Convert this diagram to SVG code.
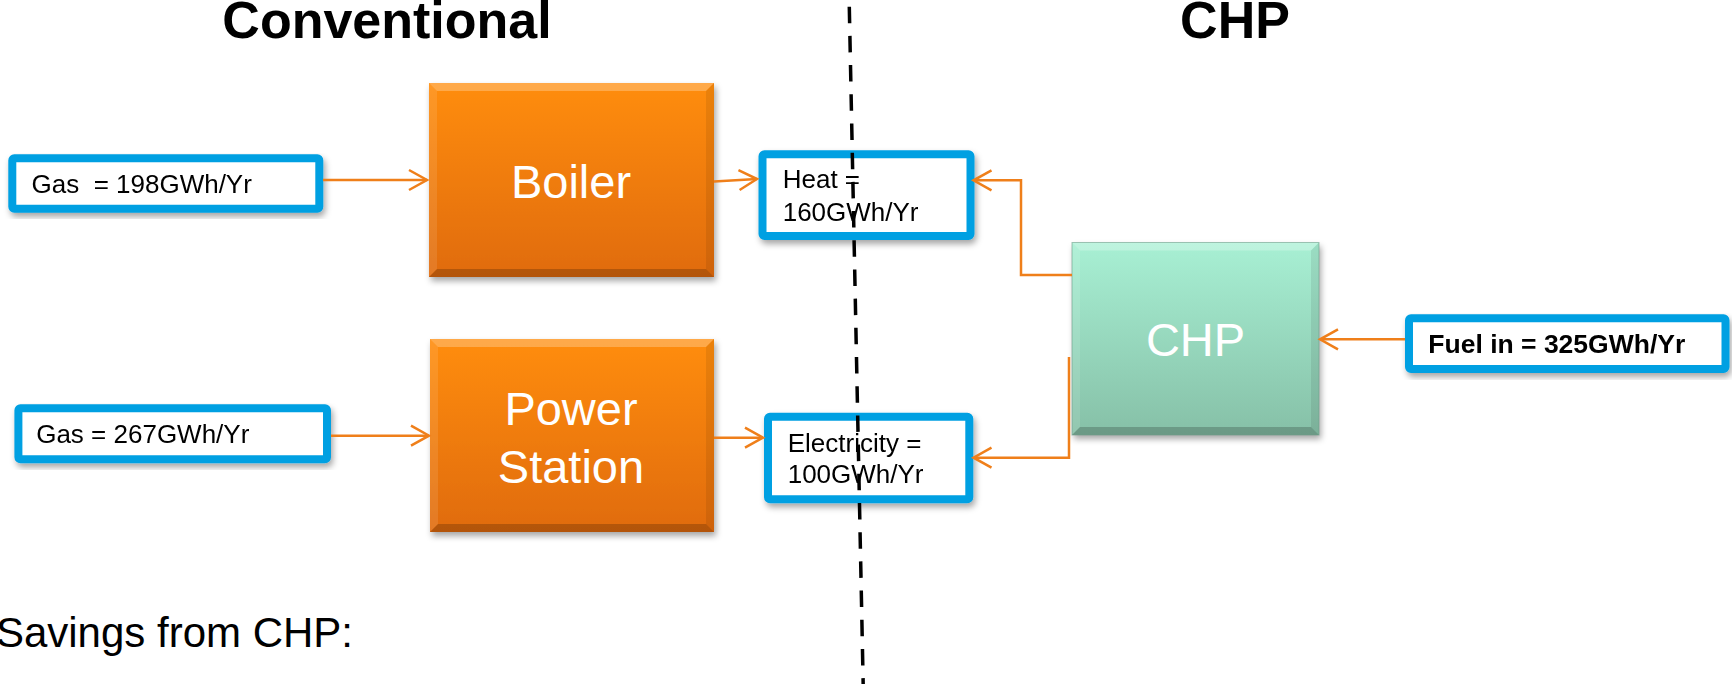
<svg xmlns="http://www.w3.org/2000/svg" width="1732" height="684" viewBox="0 0 1732 684">
<defs>
<linearGradient id="gOrange" x1="0" y1="0" x2="0" y2="1">
<stop offset="0" stop-color="#ff8d0c"/>
<stop offset="1" stop-color="#e06b0c"/>
</linearGradient>
<linearGradient id="gGreen" x1="0" y1="0" x2="0" y2="1">
<stop offset="0" stop-color="#a8f0d4"/>
<stop offset="1" stop-color="#86c0a7"/>
</linearGradient>
<filter id="shadow" x="-10%" y="-10%" width="125%" height="130%">
<feDropShadow dx="2" dy="4" stdDeviation="3" flood-color="#000" flood-opacity="0.35"/>
</filter>
<marker id="arr" markerUnits="userSpaceOnUse" markerWidth="24" markerHeight="24" viewBox="-20 -12 24 24" refX="0" refY="0" orient="auto">
<path d="M-18,-10 L0,0 L-18,10" fill="none" stroke="#ef7f1a" stroke-width="2.5"/>
</marker>
</defs>
<style>
.title{font-family:"Liberation Sans",Arial,sans-serif;font-weight:bold;font-size:52px;fill:#000;text-anchor:middle}
.lbl{font-family:"Liberation Sans",Arial,sans-serif;font-size:26px;fill:#000}
.bold{font-weight:bold;font-size:26.5px}
.sav{font-family:"Liberation Sans",Arial,sans-serif;font-size:42px;fill:#000;text-anchor:end}
.big{font-family:"Liberation Sans",Arial,sans-serif;font-size:47px;fill:#fff;text-anchor:middle}
.blue{fill:#fff;stroke:#00a0e2;stroke-width:8}
.conn{fill:none;stroke:#ef7f1a;stroke-width:2.5;marker-end:url(#arr)}
.hl{fill:#fff;opacity:0.25}
.hl2{fill:#fff;opacity:0.1}
.sh{fill:#000;opacity:0.08}
.sh2{fill:#000;opacity:0.2}
</style>
<rect width="1732" height="684" fill="#fff"/>

<text class="title" x="387" y="38">Conventional</text>
<text class="title" x="1235" y="38">CHP</text>

<g id="gas1" filter="url(#shadow)">
<rect class="blue" x="12.3" y="158.2" width="307" height="50.5" rx="2"/>
<text class="lbl" x="31.5" y="193.3" xml:space="preserve">Gas  = 198GWh/Yr</text>
</g>

<g id="gas2" filter="url(#shadow)">
<rect class="blue" x="18.4" y="408.3" width="308.6" height="51" rx="2"/>
<text class="lbl" x="36.2" y="443.3">Gas = 267GWh/Yr</text>
</g>

<g id="boiler">
<rect x="429" y="83" width="285" height="194" fill="url(#gOrange)" filter="url(#shadow)"/>
<polygon class="hl" points="429,83 714,83 706,91 437,91"/>
<polygon class="hl2" points="429,83 437,91 437,269 429,277"/>
<polygon class="sh" points="714,83 714,277 706,269 706,91"/>
<polygon class="sh2" points="429,277 437,269 706,269 714,277"/>
<text class="big" x="571" y="197.7">Boiler</text>
</g>

<g id="power">
<rect x="430" y="339" width="284" height="193" fill="url(#gOrange)" filter="url(#shadow)"/>
<polygon class="hl" points="430,339 714,339 706,347 438,347"/>
<polygon class="hl2" points="430,339 438,347 438,524 430,532"/>
<polygon class="sh" points="714,339 714,532 706,524 706,347"/>
<polygon class="sh2" points="430,532 438,524 706,524 714,532"/>
<text class="big" x="571" y="425">Power</text>
<text class="big" x="571" y="482.7">Station</text>
</g>

<g id="heat" filter="url(#shadow)">
<rect class="blue" x="762.5" y="154.2" width="208" height="81.7" rx="2"/>
<text class="lbl" x="782.7" y="187.7">Heat =</text>
<text class="lbl" x="782.7" y="221">160GWh/Yr</text>
</g>

<g id="electricity" filter="url(#shadow)">
<rect class="blue" x="768" y="416.7" width="201.3" height="82.5" rx="2"/>
<text class="lbl" x="787.7" y="451.7">Electricity =</text>
<text class="lbl" x="787.7" y="483.3">100GWh/Yr</text>
</g>

<g id="chp">
<rect x="1072" y="242.5" width="247" height="192.5" fill="url(#gGreen)" filter="url(#shadow)"/>
<polygon class="hl" points="1072,242.5 1319,242.5 1311,250.5 1080,250.5"/>
<polygon class="hl2" points="1072,242.5 1080,250.5 1080,427 1072,435"/>
<polygon class="sh" points="1319,242.5 1319,435 1311,427 1311,250.5"/>
<polygon class="sh2" points="1072,435 1080,427 1311,427 1319,435"/>
<rect x="1072" y="242.5" width="247" height="192.5" fill="none" stroke="#6f9f8a" stroke-width="1" opacity="0.6"/>
<text class="big" x="1195.5" y="355.7">CHP</text>
</g>

<g id="fuel" filter="url(#shadow)">
<rect class="blue" x="1409" y="318.2" width="316.5" height="50.7" rx="2"/>
<text class="lbl bold" x="1428.3" y="353.3">Fuel in = 325GWh/Yr</text>
</g>

<g id="connectors">
<path class="conn" d="M323,180 L427,180"/>
<path class="conn" d="M714,181.5 L757,179"/>
<path class="conn" d="M331,435.7 L429,435.7"/>
<path class="conn" d="M714,437.7 L763,437.7"/>
<path class="conn" d="M1072,275 L1021,275 L1021,180.3 L973.5,180.3"/>
<path class="conn" d="M1069,357 L1069,457.7 L973.5,457.7"/>
<path class="conn" d="M1405,339.3 L1320,339.3"/>
</g>

<g id="divider">
<line x1="849.3" y1="6.7" x2="863.3" y2="690" stroke="#000" stroke-width="3.5" stroke-dasharray="16.5 12.7"/>
</g>

<text id="savings" class="sav" x="353" y="647.3">Savings from CHP:</text>
</svg>
